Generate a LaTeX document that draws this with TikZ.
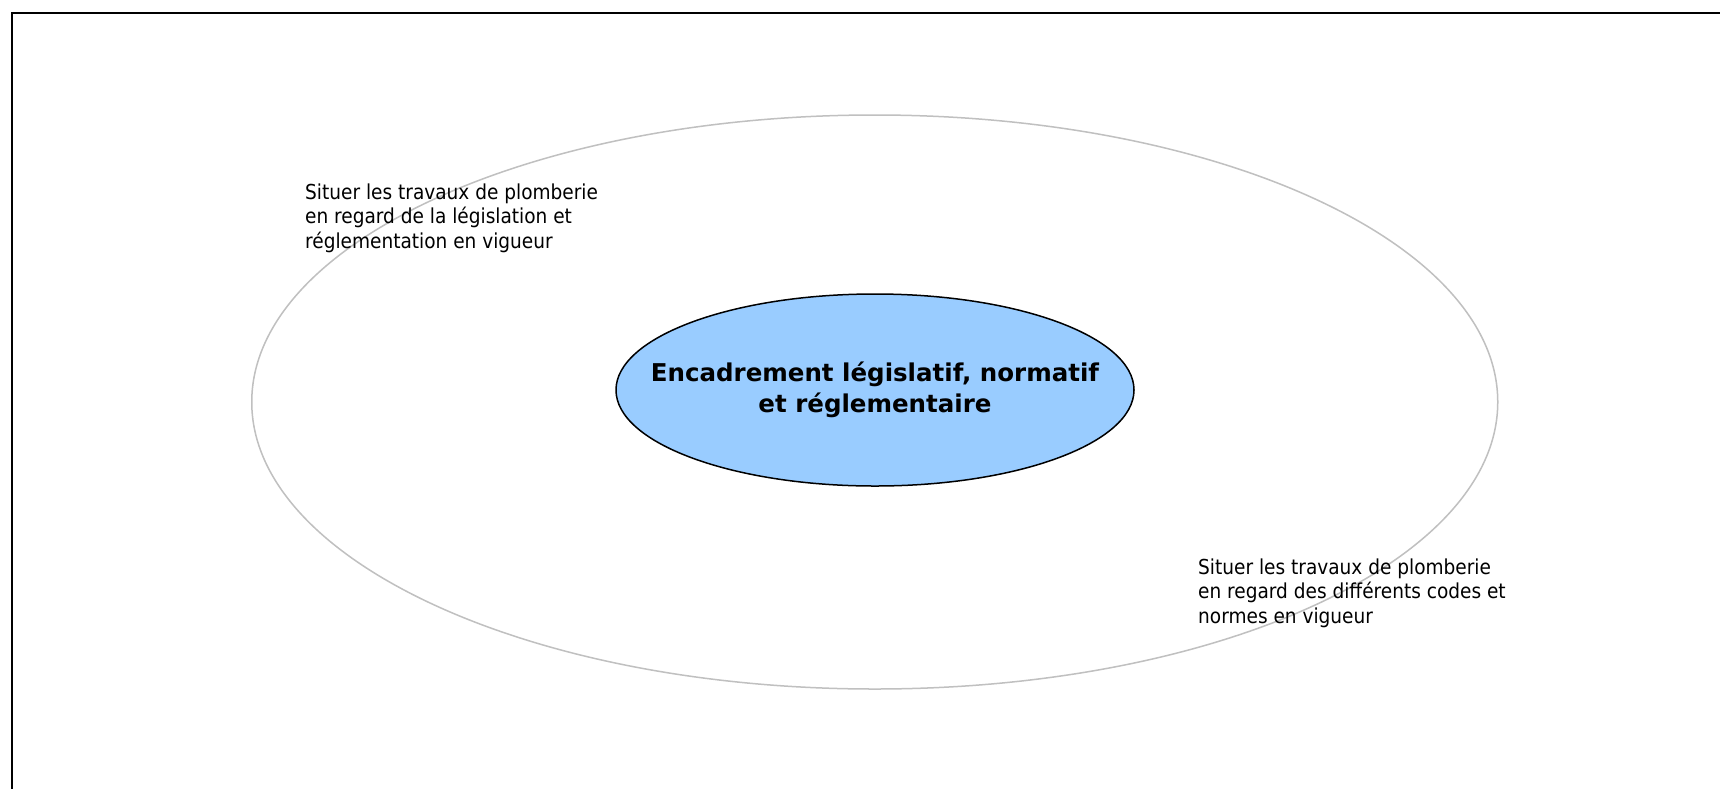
\documentclass[tikz,border=0pt]{standalone}
\usepackage{fontspec}
\setmainfont{DejaVu Sans Condensed}
\newfontfamily\corefont{DejaVu Sans}
\usetikzlibrary{shapes.geometric}
\definecolor{innerfill}{HTML}{99CCFF}
\definecolor{outerline}{HTML}{C0C0C0}
\tikzset{
  lbl/.style={anchor=base west, inner sep=0pt, align=left,
    font=\fontsize{20.6}{24.5}\selectfont},
  core/.style={ellipse, draw=black, line width=1.5pt, fill=innerfill,
    minimum width=518pt, minimum height=192pt, inner sep=0pt},
  coretext/.style={inner sep=0pt, align=center,
    font=\corefont\fontsize{24.5}{31}\selectfont\bfseries},
  ring/.style={ellipse, draw=outerline, line width=1.5pt,
    minimum width=1246pt, minimum height=574pt, inner sep=0pt}
}
\begin{document}
\begin{tikzpicture}[x=1pt,y=-1pt]
\useasboundingbox (0,0) rectangle (1720,788);
\fill[white] (0,0) rectangle (1720,788);
\draw[line width=2pt] (11.5,800) -- (11.5,12.5) -- (1730,12.5);
\node[ring] (outer) at (874.75,402) {};
\node[core] (inner) at (875,390) {};
\node[coretext] (innertext) at (inner.center) {Encadrement législatif, normatif\\et réglementaire};
\node[lbl] (left) at (305,248) {Situer les travaux de plomberie\\en regard de la législation et\\réglementation en vigueur};
\node[lbl] (right) at (1198,623) {Situer les travaux de plomberie\\en regard des différents codes et\\normes en vigueur};
\end{tikzpicture}
\end{document}
